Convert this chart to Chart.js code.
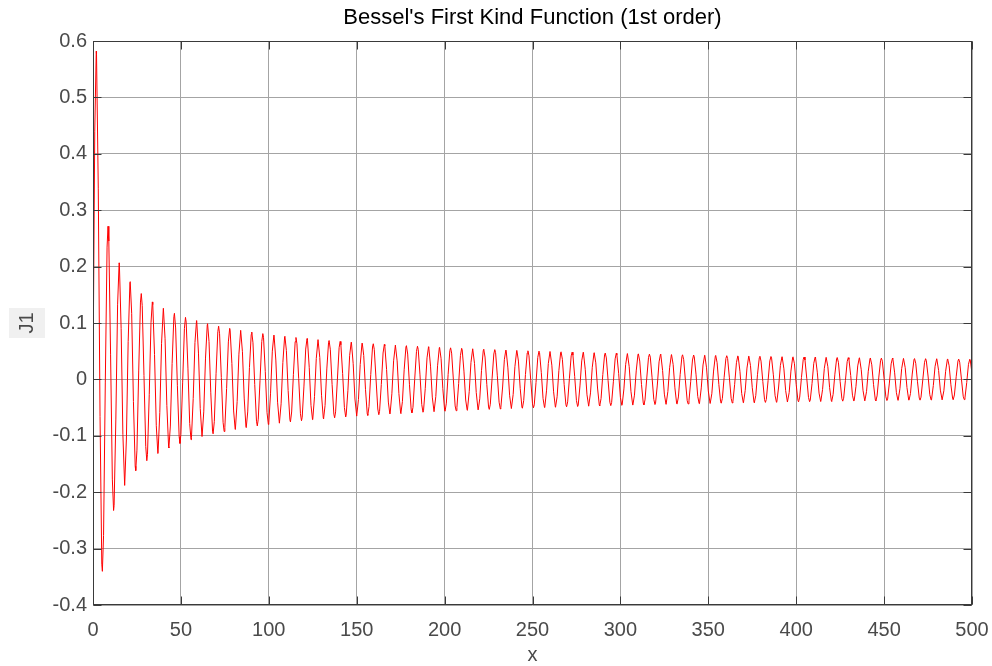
<!DOCTYPE html>
<html>
<head>
<meta charset="utf-8">
<script src="https://cdn.jsdelivr.net/npm/chart.js@4/dist/chart.umd.min.js"></script>
<style>
  html, body { margin: 0; padding: 0; background: #ffffff; }
  #wrap { width: 992px; height: 666px; }
</style>
</head>
<body>
<div id="wrap"><canvas id="c" width="992" height="666"></canvas></div>
<script>
// ---------------- data ----------------
const chartTitle = "Bessel's First Kind Function (1st order)";
const xLabel = "x";
const yLabel = "J1";

// samples of J1 taken at x = sampleStart, sampleStart + sampleStep, ...
const sampleStart = 0;
const sampleStep = 1;
const j1Samples = [
  0, 0.4401, 0.5767, 0.3391, -0.0660, -0.3276, -0.2767, -0.0047, 0.2346, 0.2453,
  0.0435, -0.1768, -0.2234, -0.0703, 0.1334, 0.2051, 0.0904, -0.0977, -0.1880, -0.1057,
  0.0668, 0.1712, 0.1172, -0.0392, -0.1541, -0.1254, 0.0150, 0.1371, 0.1308, 0.0070,
  -0.1188, -0.1328, -0.0264, 0.1006, 0.1328, 0.0440, -0.0822, -0.1304, -0.0590, 0.0640,
  0.1260, 0.0720, -0.0459, -0.1194, -0.0827, 0.0284, 0.1112, 0.0912, -0.0113, -0.1014,
  -0.0974, -0.0048, 0.0904, 0.1015, 0.0200, -0.0782, -0.1035, -0.0340, 0.0653, 0.1034,
  0.0466, -0.0517, -0.1012, -0.0576, 0.0378, 0.0973, 0.0671, -0.0238, -0.0917, -0.0749,
  0.0100, 0.0845, 0.0809, 0.0034, -0.0761, -0.0850, -0.0162, 0.0665, 0.0874, 0.0283,
  -0.0560, -0.0880, -0.0392, 0.0448, 0.0870, 0.0491, -0.0331, -0.0841, -0.0577, 0.0213,
  0.0799, 0.0648, -0.0093, -0.0742, -0.0705, -0.0024, 0.0672, 0.0746, 0.0137, -0.0591,
  -0.0771, -0.0244, 0.0501, 0.0780, 0.0343, -0.0404, -0.0775, -0.0433, 0.0301, 0.0753,
  0.0511, -0.0196, -0.0717, -0.0578, 0.0090, 0.0669, 0.0631, 0.0016, -0.0609, -0.0671,
  -0.0118, 0.0538, 0.0696, 0.0215, -0.0459, -0.0708, -0.0306, 0.0372, 0.0705, 0.0389,
  -0.0280, -0.0688, -0.0463, 0.0185, 0.0658, 0.0525, -0.0088, -0.0616, -0.0576, -0.0009,
  0.0562, 0.0614, 0.0103, -0.0499, -0.0639, -0.0193, 0.0427, 0.0652, 0.0278, -0.0348,
  -0.0651, -0.0355, 0.0264, 0.0637, 0.0424, -0.0176, -0.0611, -0.0483, 0.0087, 0.0574,
  0.0532, 0.0003, -0.0525, -0.0569, -0.0090, 0.0468, 0.0594, 0.0175, -0.0402, -0.0608,
  -0.0255, 0.0330, 0.0608, 0.0328, -0.0252, -0.0597, -0.0393, 0.0170, 0.0574, 0.0449,
  -0.0086, -0.0540, -0.0496, 0.0003, 0.0496, 0.0532, 0.0080, -0.0443, -0.0557, -0.0160,
  0.0382, 0.0570, 0.0235, -0.0314, -0.0573, -0.0304, 0.0241, 0.0563, 0.0367, -0.0165,
  -0.0542, -0.0421, 0.0086, 0.0512, 0.0466, -0.0007, -0.0471, -0.0501, -0.0071, 0.0422,
  0.0526, 0.0147, -0.0365, -0.0539, -0.0218, 0.0302, 0.0543, 0.0285, -0.0233, -0.0535,
  -0.0344, 0.0161, 0.0516, 0.0396, -0.0087, -0.0488, -0.0440, 0.0011, 0.0450, 0.0474,
  0.0063, -0.0404, -0.0498, -0.0135, 0.0351, 0.0513, 0.0204, -0.0291, -0.0517, -0.0267,
  0.0226, 0.0510, 0.0325, -0.0158, -0.0494, -0.0376, 0.0087, 0.0468, 0.0418, -0.0015,
  -0.0433, -0.0451, -0.0056, 0.0389, 0.0475, 0.0125, -0.0339, -0.0489, -0.0191, 0.0282,
  0.0495, 0.0252, -0.0220, -0.0489, -0.0308, 0.0155, 0.0474, 0.0356, -0.0087, -0.0449,
  -0.0398, 0.0019, 0.0417, 0.0430, 0.0049, -0.0376, -0.0455, -0.0116, 0.0328, 0.0469,
  0.0179, -0.0274, -0.0475, -0.0239, 0.0215, 0.0470, 0.0293, -0.0153, -0.0457, -0.0340,
  0.0088, 0.0434, 0.0380, -0.0022, -0.0403, -0.0412, -0.0043, 0.0364, 0.0436, 0.0108,
  -0.0319, -0.0451, -0.0169, 0.0267, 0.0457, 0.0226, -0.0211, -0.0453, -0.0279, 0.0151,
  0.0441, 0.0325, -0.0089, -0.0420, -0.0364, 0.0025, 0.0391, 0.0396, 0.0038, -0.0354,
  -0.0420, -0.0100, 0.0311, 0.0435, 0.0160, -0.0261, -0.0441, -0.0215, 0.0207, 0.0438,
  0.0266, -0.0150, -0.0427, -0.0311, 0.0090, 0.0407, 0.0350, -0.0028, -0.0379, -0.0381,
  -0.0033, 0.0344, 0.0404, 0.0093, -0.0303, -0.0420, -0.0151, 0.0256, 0.0427, 0.0205,
  -0.0204, -0.0424, -0.0255, 0.0148, 0.0414, 0.0299, -0.0090, -0.0396, -0.0337, 0.0031,
  0.0370, 0.0368, 0.0028, -0.0336, -0.0391, -0.0087, 0.0296, 0.0406, 0.0143, -0.0251,
  -0.0413, -0.0196, 0.0201, 0.0412, 0.0244, -0.0147, -0.0402, -0.0287, 0.0091, 0.0385,
  0.0324, -0.0034, -0.0360, -0.0355, -0.0024, 0.0328, 0.0378, 0.0081, -0.0290, -0.0394,
  -0.0135, 0.0247, 0.0401, 0.0187, -0.0198, -0.0401, -0.0235, 0.0147, 0.0392, 0.0277,
  -0.0092, -0.0376, -0.0313, 0.0036, 0.0352, 0.0344, 0.0020, -0.0321, -0.0366, -0.0075,
  0.0285, 0.0382, 0.0128, -0.0243, -0.0390, -0.0179, 0.0196, 0.0390, 0.0225, -0.0146,
  -0.0382, -0.0267, 0.0093, 0.0367, 0.0303, -0.0039, -0.0344, -0.0333, -0.0016, 0.0315,
  0.0356, 0.0070, -0.0280, -0.0372, -0.0122, 0.0239, 0.0380, 0.0171, -0.0194, -0.0380,
  -0.0217, 0.0145, 0.0373, 0.0258, -0.0094, -0.0359, -0.0293, 0.0041, 0.0337, 0.0323,
  0.0012, -0.0309, -0.0346, -0.0065, 0.0275, 0.0362, 0.0116, -0.0236, -0.0370, -0.0164,
  0.0192, 0.0371, 0.0209, -0.0145, -0.0365, -0.0249, 0.0095, 0.0351, 0.0285, -0.0043,
  -0.0331, -0.0314, -0.0009, 0.0304, 0.0337, 0.0060, -0.0271, -0.0352, -0.0110, 0.0233,
  0.0361, 0.0158, -0.0190, -0.0363, -0.0202, 0.0144, 0.0357, 0.0241, -0.0096, -0.0344,
  -0.0276, 0.0046, 0.0324, 0.0305, 0.0005, -0.0299, -0.0328, -0.0056, 0.0267, 0.0344,
  0.0105
];

// peaks and troughs of the curve (x position, value)
const extremaX = [
  1.841, 5.331, 8.536, 11.706, 14.864, 18.016, 21.164, 24.311, 27.457, 30.602,
  33.746, 36.890, 40.033, 43.177, 46.320, 49.462, 52.605, 55.747, 58.890, 62.033,
  65.175, 68.317, 71.459, 74.601, 77.743, 80.885, 84.028, 87.169, 90.311, 93.453,
  96.595, 99.746, 102.887, 106.029, 109.170, 112.312, 115.454, 118.595, 121.737, 124.878,
  128.020, 131.161, 134.303, 137.445, 140.586, 143.728, 146.869, 150.011, 153.153, 156.294,
  159.436, 162.577, 165.719, 168.861, 172.002, 175.144, 178.285, 181.427, 184.569, 187.710,
  190.852, 193.993, 197.135, 200.276, 203.418, 206.560, 209.701, 212.843, 215.984, 219.126,
  222.268, 225.409, 228.551, 231.692, 234.834, 237.976, 241.117, 244.259, 247.400, 250.542,
  253.684, 256.825, 259.967, 263.108, 266.250, 269.391, 272.533, 275.675, 278.816, 281.958,
  285.100, 288.241, 291.383, 294.524, 297.666, 300.807, 303.949, 307.091, 310.232, 313.374,
  316.515, 319.657, 322.799, 325.940, 329.082, 332.223, 335.365, 338.507, 341.648, 344.790,
  347.931, 351.073, 354.215, 357.356, 360.498, 363.639, 366.781, 369.923, 373.064, 376.206,
  379.347, 382.489, 385.630, 388.772, 391.914, 395.055, 398.197, 401.338, 404.480, 407.622,
  410.763, 413.905, 417.046, 420.188, 423.330, 426.471, 429.613, 432.754, 435.896, 439.037,
  442.179, 445.321, 448.462, 451.604, 454.746, 457.887, 461.029, 464.170, 467.312, 470.454,
  473.595, 476.737, 479.878, 483.020, 486.161, 489.303, 492.445, 495.586, 498.728
];
const extremaY = [
  0.5819, -0.3403, 0.2715, -0.2325, 0.2066, -0.1877, 0.1733, -0.1617, 0.1522, -0.1442,
  0.1374, -0.1314, 0.1261, -0.1214, 0.1172, -0.1135, 0.1100, -0.1069, 0.1040, -0.1013,
  0.0988, -0.0965, 0.0944, -0.0924, 0.0905, -0.0887, 0.0870, -0.0855, 0.0840, -0.0825,
  0.0812, -0.0799, 0.0787, -0.0776, 0.0764, -0.0753, 0.0743, -0.0733, 0.0723, -0.0714,
  0.0705, -0.0697, 0.0689, -0.0681, 0.0673, -0.0666, 0.0659, -0.0651, 0.0645, -0.0638,
  0.0632, -0.0626, 0.0620, -0.0614, 0.0608, -0.0603, 0.0598, -0.0592, 0.0588, -0.0582,
  0.0578, -0.0573, 0.0568, -0.0564, 0.0560, -0.0555, 0.0551, -0.0547, 0.0543, -0.0539,
  0.0535, -0.0532, 0.0528, -0.0524, 0.0521, -0.0517, 0.0514, -0.0511, 0.0507, -0.0504,
  0.0501, -0.0498, 0.0495, -0.0492, 0.0489, -0.0486, 0.0483, -0.0481, 0.0478, -0.0475,
  0.0473, -0.0470, 0.0467, -0.0465, 0.0463, -0.0460, 0.0458, -0.0455, 0.0453, -0.0451,
  0.0448, -0.0446, 0.0444, -0.0442, 0.0440, -0.0438, 0.0436, -0.0434, 0.0432, -0.0430,
  0.0428, -0.0426, 0.0424, -0.0422, 0.0420, -0.0418, 0.0417, -0.0415, 0.0413, -0.0411,
  0.0410, -0.0408, 0.0406, -0.0405, 0.0403, -0.0401, 0.0400, -0.0398, 0.0397, -0.0395,
  0.0394, -0.0392, 0.0391, -0.0389, 0.0388, -0.0386, 0.0385, -0.0384, 0.0382, -0.0381,
  0.0379, -0.0378, 0.0377, -0.0375, 0.0374, -0.0373, 0.0372, -0.0370, 0.0369, -0.0368,
  0.0367, -0.0365, 0.0364, -0.0363, 0.0362, -0.0361, 0.0360, -0.0358, 0.0357
];

const xTicks = [0, 50, 100, 150, 200, 250, 300, 350, 400, 450, 500];
const yTicks = [-0.4, -0.3, -0.2, -0.1, 0, 0.1, 0.2, 0.3, 0.4, 0.5, 0.6];

// ---------------- build ----------------
const points = j1Samples.map((v, i) => ({ x: sampleStart + i * sampleStep, y: v }))
  .concat(extremaX.map((xv, i) => ({ x: xv, y: extremaY[i] })))
  .sort((a, b) => a.x - b.x);

const FONT = '"Liberation Sans", Arial, Helvetica, sans-serif';
const TICK_COLOR = '#4a4a4a';
const AXIS_COLOR = '#3a3a3a';
const GRID_COLOR = '#a4a4a4';

const framePlugin = {
  id: 'frame',
  afterDraw(chart) {
    const { ctx, chartArea: a, scales: { x, y } } = chart;
    ctx.save();
    const L = Math.round(a.left) + 0.5, R = Math.round(a.right) - 0.5;
    const T = Math.round(a.top) + 0.5, B = Math.round(a.bottom) - 0.5;
    ctx.strokeStyle = AXIS_COLOR;
    ctx.lineWidth = 1;
    ctx.strokeRect(L, T, R - L, B - T);
    const tl = 8;
    ctx.beginPath();
    xTicks.forEach(v => {
      const px = Math.round(x.getPixelForValue(v)) + 0.5;
      ctx.moveTo(px, B); ctx.lineTo(px, B - tl);
      ctx.moveTo(px, T); ctx.lineTo(px, T + tl);
    });
    yTicks.forEach(v => {
      const py = Math.round(y.getPixelForValue(v)) + 0.5;
      ctx.moveTo(L, py); ctx.lineTo(L + tl, py);
      ctx.moveTo(R, py); ctx.lineTo(R - tl, py);
    });
    ctx.stroke();

    // title
    ctx.fillStyle = '#000000';
    ctx.font = '22px ' + FONT;
    ctx.textAlign = 'center';
    ctx.textBaseline = 'middle';
    ctx.fillText(chartTitle, (a.left + a.right) / 2, 18);

    // x label
    ctx.fillStyle = TICK_COLOR;
    ctx.font = '20px ' + FONT;
    ctx.fillText(xLabel, (a.left + a.right) / 2, 655);

    // y label with light box
    ctx.fillStyle = '#f0f0f0';
    ctx.fillRect(9, 308, 36, 30);
    ctx.translate(27, 323);
    ctx.rotate(-Math.PI / 2);
    ctx.fillStyle = TICK_COLOR;
    ctx.fillText(yLabel, 0, 0);
    ctx.restore();
  }
};

new Chart(document.getElementById('c'), {
  type: 'line',
  data: {
    datasets: [{
      data: points,
      borderColor: '#ff0000',
      borderWidth: 1,
      pointRadius: 0,
      tension: 0,
      fill: false
    }]
  },
  options: {
    responsive: false,
    animation: false,
    devicePixelRatio: 1,
    layout: { padding: { left: 0, right: 20, top: 41, bottom: 0 } },
    plugins: {
      legend: { display: false },
      tooltip: { enabled: false },
      title: { display: false }
    },
    scales: {
      x: {
        type: 'linear',
        min: 0, max: 500,
        afterBuildTicks: s => { s.ticks = xTicks.map(v => ({ value: v })); },
        afterFit: s => { s.height = 61; s.paddingLeft = 0; s.paddingRight = 0; },
        grid: { color: GRID_COLOR, lineWidth: 1, drawTicks: false },
        border: { display: false },
        ticks: {
          color: TICK_COLOR,
          font: { family: FONT, size: 20 },
          padding: 13,
          maxRotation: 0,
          autoSkip: false,
          callback: v => String(v)
        }
      },
      y: {
        type: 'linear',
        min: -0.4, max: 0.6,
        afterBuildTicks: s => { s.ticks = yTicks.map(v => ({ value: v })); },
        afterFit: s => { s.width = 93; s.paddingTop = 0; s.paddingBottom = 0; },
        grid: { color: GRID_COLOR, lineWidth: 1, drawTicks: false },
        border: { display: false },
        ticks: {
          color: TICK_COLOR,
          font: { family: FONT, size: 20 },
          padding: 6,
          autoSkip: false,
          callback: v => String(Math.round(v * 10) / 10)
        }
      }
    }
  },
  plugins: [framePlugin]
});
</script>
</body>
</html>
